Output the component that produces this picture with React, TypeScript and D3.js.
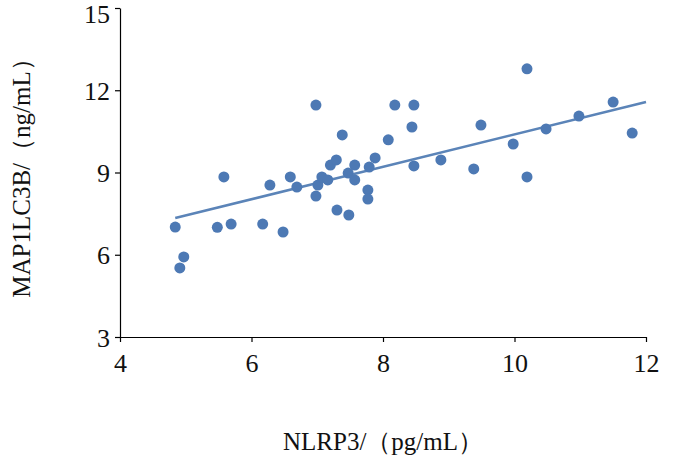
import React, { useEffect, useRef } from 'react';
import * as d3 from 'd3';

const xValues = [4.84, 4.91, 4.97, 5.48, 5.58, 5.69, 6.17, 6.28, 6.48, 6.59, 6.69, 6.98, 6.98, 7.01, 7.07, 7.16, 7.2, 7.29, 7.3, 7.38, 7.47, 7.48, 7.57, 7.57, 7.77, 7.77, 7.79, 7.88, 8.08, 8.18, 8.44, 8.47, 8.47, 8.88, 9.38, 9.49, 9.98, 10.19, 10.19, 10.48, 10.98, 11.5, 11.79];
const yValues = [7.01, 5.52, 5.92, 7.0, 8.84, 7.12, 7.12, 8.54, 6.83, 8.84, 8.47, 11.46, 8.14, 8.54, 8.84, 8.73, 9.27, 9.46, 7.63, 10.37, 8.98, 7.45, 9.27, 8.73, 8.36, 8.03, 9.2, 9.53, 10.19, 11.46, 10.66, 11.46, 9.24, 9.46, 9.13, 10.73, 10.04, 12.78, 8.84, 10.59, 11.06, 11.57, 10.44];
const trendX = [4.84, 12];
const trendY = [7.34, 11.57];
const xTicks = [4, 6, 8, 10, 12];
const yTicks = [3, 6, 9, 12, 15];

const W = 678, H = 460;
const FONT = '"Times New Roman", "Liberation Serif", "DejaVu Serif", serif';

export default function App() {
  const ref = useRef<SVGSVGElement>(null);

  useEffect(() => {
    const svg = d3.select(ref.current!);
    svg.selectAll('*').remove();

    const x = d3.scaleLinear().domain([4, 12]).range([120, 646]);
    const y = d3.scaleLinear().domain([3, 15]).range([337, 8]);

    const xAxis = svg.append('g')
      .attr('transform', 'translate(0,337)')
      .call(d3.axisBottom(x).tickValues(xTicks).tickSize(5).tickSizeOuter(0));
    const yAxis = svg.append('g')
      .attr('transform', 'translate(120,0)')
      .call(d3.axisLeft(y).tickValues(yTicks).tickSize(5).tickSizeOuter(0));

    [xAxis, yAxis].forEach(a => {
      a.selectAll('path, line').attr('stroke', '#000').attr('stroke-width', 1.2);
      a.selectAll('text').attr('font-family', FONT).attr('font-size', 26).attr('fill', '#111');
    });
    xAxis.selectAll('text').attr('dy', '1.05em');
    yAxis.selectAll('text')
      .attr('dy', (d: any) => (d === 15 ? '0.55em' : '0.35em'))
      .attr('x', -10);

    const line = d3.line<number>()
      .x((_, i) => x(trendX[i]))
      .y(d => y(d));
    svg.append('path')
      .attr('d', line(trendY))
      .attr('fill', 'none')
      .attr('stroke', '#5b84b8')
      .attr('stroke-width', 2.5);

    svg.append('g').selectAll('circle')
      .data(xValues)
      .enter()
      .append('circle')
      .attr('cx', d => x(d))
      .attr('cy', (_, i) => y(yValues[i]))
      .attr('r', 5.5)
      .attr('fill', '#4d79b4');

    svg.append('text')
      .attr('x', 383).attr('y', 450)
      .attr('text-anchor', 'middle')
      .attr('font-family', FONT).attr('font-size', 25).attr('fill', '#111')
      .text('NLRP3/（pg/mL）');

    svg.append('text')
      .attr('transform', 'translate(30,172) rotate(-90)')
      .attr('text-anchor', 'middle')
      .attr('font-family', FONT).attr('font-size', 25).attr('fill', '#111')
      .text('MAP1LC3B/（ng/mL）');
  }, []);

  return (
    <svg ref={ref} width={W} height={H}
      style={{ position: 'absolute', left: 0, top: 0, background: '#fff' }} />
  );
}
